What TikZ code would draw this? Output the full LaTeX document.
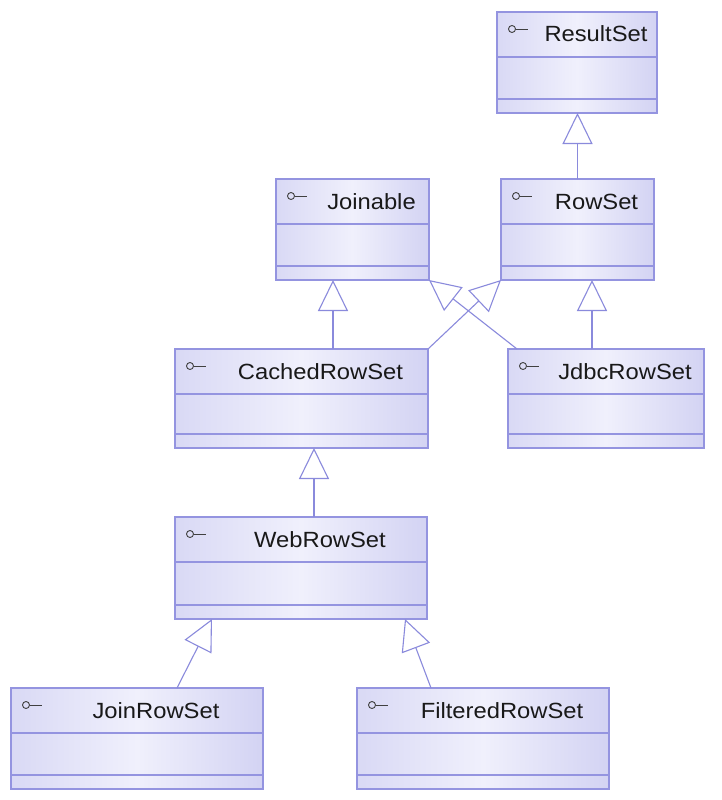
\documentclass[tikz,border=0pt]{standalone}
\usepackage{fontspec}
\setmainfont[FakeStretch=1.08]{Liberation Sans}
\usetikzlibrary{arrows.meta,calc}
\definecolor{umlborder}{HTML}{9494E0}
\definecolor{umlline}{HTML}{8A8ADC}
\definecolor{umlleft}{HTML}{D9D9F5}
\definecolor{umlmid}{HTML}{F0F0FC}
\definecolor{umlright}{HTML}{D3D3F3}
\tikzset{
  classbox/.style={draw=umlborder, line width=1.1pt, left color=umlleft, right color=umlright, middle color=umlmid, inner sep=0pt, outer sep=0pt, anchor=north west},
  divider/.style={draw=umlborder, line width=1.1pt},
  classtitle/.style={font=\fontsize{22}{26}\selectfont, text=black!90, anchor=base, inner sep=0pt},
  iconline/.style={draw=black!75, line width=0.9pt},
  inh/.style={draw=umlline, line width=1.1pt, -{Triangle[length=31pt, width=30pt, fill=white]}},
}
\newcommand\umlclass[6]{%
  \node[classbox, minimum width={#4pt-#2pt}, minimum height={#5pt-#3pt}] (#1) at (#2,#3) {};
  \draw[divider] ([yshift=-45pt]#1.north west) -- ([yshift=-45pt]#1.north east);
  \draw[divider] ([yshift=14pt]#1.south west) -- ([yshift=14pt]#1.south east);
  \draw[iconline] ([xshift=15pt,yshift=-17pt]#1.north west) circle[radius=3.5pt];
  \draw[iconline] ([xshift=18.5pt,yshift=-17pt]#1.north west) -- ([xshift=31pt,yshift=-17pt]#1.north west);
  \node[classtitle] (#1-t) at ([xshift=19pt,yshift=-30pt]#1.north) {#6};
}
\begin{document}
\begin{tikzpicture}[x=1pt,y=-1pt]
\fill[white] (0,0) rectangle (722,800);
\useasboundingbox (0,0) rectangle (722,800);

\umlclass{resultset}{497}{12}{657}{113}{ResultSet}
\umlclass{joinable}{276}{179}{429}{280}{Joinable}
\umlclass{rowset}{501}{179}{654}{280}{RowSet}
\umlclass{cached}{175}{349}{428}{448}{CachedRowSet}
\umlclass{jdbc}{508}{349}{704}{448}{JdbcRowSet}
\umlclass{web}{175}{517}{427}{619}{WebRowSet}
\umlclass{join}{11}{688}{263}{789}{JoinRowSet}
\umlclass{filtered}{357}{688}{609}{789}{FilteredRowSet}

\draw[inh] (rowset.north) -- (rowset.north |- resultset.south);
\draw[inh] ([xshift=158pt]cached.north west) -- ([xshift=57pt]joinable.south west);
\draw[inh] ([xshift=84pt]jdbc.north west) -- ([xshift=91pt]rowset.south west);
\draw[inh] (cached.north east) -- (rowset.south west);
\draw[inh] ([xshift=9pt]jdbc.north west) -- (joinable.south east);
\draw[inh] ([xshift=139pt]web.north west) -- ([xshift=139pt]cached.south west);
\draw[inh] ([xshift=166pt]join.north west) -- ([xshift=37pt]web.south west);
\draw[inh] ([xshift=74pt]filtered.north west) -- ([xshift=230pt]web.south west);
\end{tikzpicture}
\end{document}
